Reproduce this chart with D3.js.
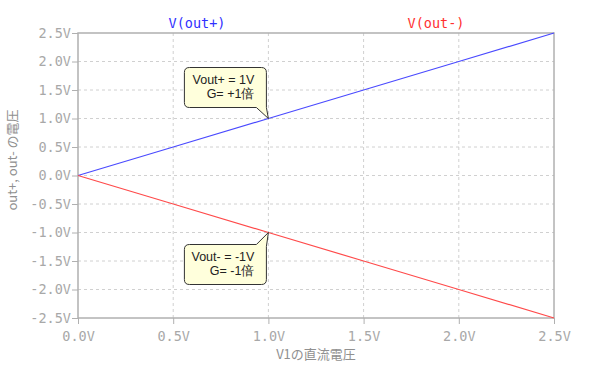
<!DOCTYPE html>
<meta charset="utf-8">
<script src="https://d3js.org/d3.v7.min.js"></script>
<style>
  body { margin: 0; background: #fff; }
  .tick text { font-family: "DejaVu Sans Mono", monospace; font-size: 13.5px; fill: #a8a8a8; }
</style>
<body>
<div id="chart"></div>
<script>

// data
const v1 = [0, 0.5, 1.0, 1.5, 2.0, 2.5];
const outPlus = [0, 0.5, 1.0, 1.5, 2.0, 2.5];
const outMinus = [0, -0.5, -1.0, -1.5, -2.0, -2.5];
const xTicks = [0, 0.5, 1.0, 1.5, 2.0, 2.5];
const yTicks = [2.5, 2.0, 1.5, 1.0, 0.5, 0, -0.5, -1.0, -1.5, -2.0, -2.5];
const notes = [
  {x: 1.0, y: 1.0, lines: ["Vout+ = 1V", "G= +1倍"], side: "above"},
  {x: 1.0, y: -1.0, lines: ["Vout- = -1V", "G= -1倍"], side: "below"}
];

const W = 600, H = 371;
const margin = {top: 33, right: 46, bottom: 53, left: 78};
const width = W - margin.left - margin.right,
      height = H - margin.top - margin.bottom;

const svg = d3.select("#chart").append("svg")
  .attr("width", W).attr("height", H);
const g = svg.append("g")
  .attr("transform", `translate(${margin.left},${margin.top})`);

const x = d3.scaleLinear().domain([0, 2.5]).range([0, width]);
const y = d3.scaleLinear().domain([-2.5, 2.5]).range([height, 0]);

// grid
g.append("g").selectAll("line").data(xTicks.slice(1, -1)).join("line")
  .attr("x1", d => x(d)).attr("x2", d => x(d))
  .attr("y1", 0).attr("y2", height)
  .attr("stroke", "#d0d0d0").attr("stroke-dasharray", "3,3");
g.append("g").selectAll("line").data(yTicks.slice(1, -1)).join("line")
  .attr("y1", d => y(d)).attr("y2", d => y(d))
  .attr("x1", 0).attr("x2", width)
  .attr("stroke", "#d0d0d0").attr("stroke-dasharray", "3,3");

// axes
const fmt = d => (d < 0 ? "-" : "") + Math.abs(d).toFixed(1) + "V";
const xAxis = g.append("g")
  .attr("transform", `translate(0,${height})`)
  .call(d3.axisBottom(x).tickValues(xTicks).tickFormat(fmt).tickSize(6).tickPadding(3));
const yAxis = g.append("g")
  .call(d3.axisLeft(y).tickValues(yTicks).tickFormat(fmt).tickSize(6).tickPadding(1));
[xAxis, yAxis].forEach(a => {
  a.select(".domain").remove();
  a.selectAll(".tick line").attr("stroke", "#b0b0b0");
});
xAxis.selectAll(".tick text").attr("dy", "1.05em");

// frame
g.append("rect")
  .attr("width", width).attr("height", height)
  .attr("fill", "none").attr("stroke", "#b0b0b0").attr("stroke-width", 1.5);

// lines
const lineP = d3.line().x((d, i) => x(v1[i])).y(d => y(d));
g.append("path").datum(outPlus)
  .attr("fill", "none").attr("stroke", "#4a4aff").attr("stroke-width", 1.2)
  .attr("d", lineP);
g.append("path").datum(outMinus)
  .attr("fill", "none").attr("stroke", "#ff4a4a").attr("stroke-width", 1.2)
  .attr("d", lineP);

// trace titles
svg.append("text")
  .attr("x", 197).attr("y", 28).attr("text-anchor", "middle")
  .style("font-family", "DejaVu Sans Mono").style("font-size", "13.5px")
  .attr("fill", "#3030ff").text("V(out+)");
svg.append("text")
  .attr("x", 436).attr("y", 28).attr("text-anchor", "middle")
  .style("font-family", "DejaVu Sans Mono").style("font-size", "13.5px")
  .attr("fill", "#ff3030").text("V(out-)");

// callouts
notes.forEach(n => {
  const tx = x(n.x), ty = y(n.y);
  const bw = 82, bh = 40, r = 5;
  const right = tx - 2, left = right - bw;
  let top, bottom, path;
  if (n.side === "above") {
    bottom = ty - 11; top = bottom - bh;
    path = `M${left + r},${top} H${right - r} Q${right},${top} ${right},${top + r}
      V${bottom} L${tx},${ty} L${right - 10},${bottom} H${left + r}
      Q${left},${bottom} ${left},${bottom - r} V${top + r} Q${left},${top} ${left + r},${top} Z`;
  } else {
    top = ty + 12; bottom = top + bh;
    path = `M${left + r},${top} H${right - 10} L${tx},${ty} L${right},${top + 2}
      V${bottom - r} Q${right},${bottom} ${right - r},${bottom} H${left + r}
      Q${left},${bottom} ${left},${bottom - r} V${top + r} Q${left},${top} ${left + r},${top} Z`;
  }
  g.append("path").attr("d", path)
    .attr("fill", "#ffffdc").attr("stroke", "#333").attr("stroke-width", 1);
  n.lines.forEach((t, i) => {
    g.append("text")
      .attr("x", right - 12).attr("y", top + 16 + i * 14)
      .attr("text-anchor", "end")
      .style("font-family", "Liberation Sans, Arial, sans-serif").style("font-size", "12.5px")
      .attr("fill", "#222").text(t);
  });
});

// axis titles
svg.append("text")
  .attr("x", margin.left + width / 2).attr("y", 359).attr("text-anchor", "middle")
  .style("font-family", "Noto Sans CJK JP, sans-serif").style("font-size", "13px")
  .attr("fill", "#909090").text("V1の直流電圧");
svg.append("text")
  .attr("transform", "translate(17,160) rotate(-90)").attr("text-anchor", "middle")
  .style("font-family", "Noto Sans CJK JP, sans-serif").style("font-size", "13px")
  .attr("fill", "#909090").text("out+, out- の電圧");

</script>
</body>
